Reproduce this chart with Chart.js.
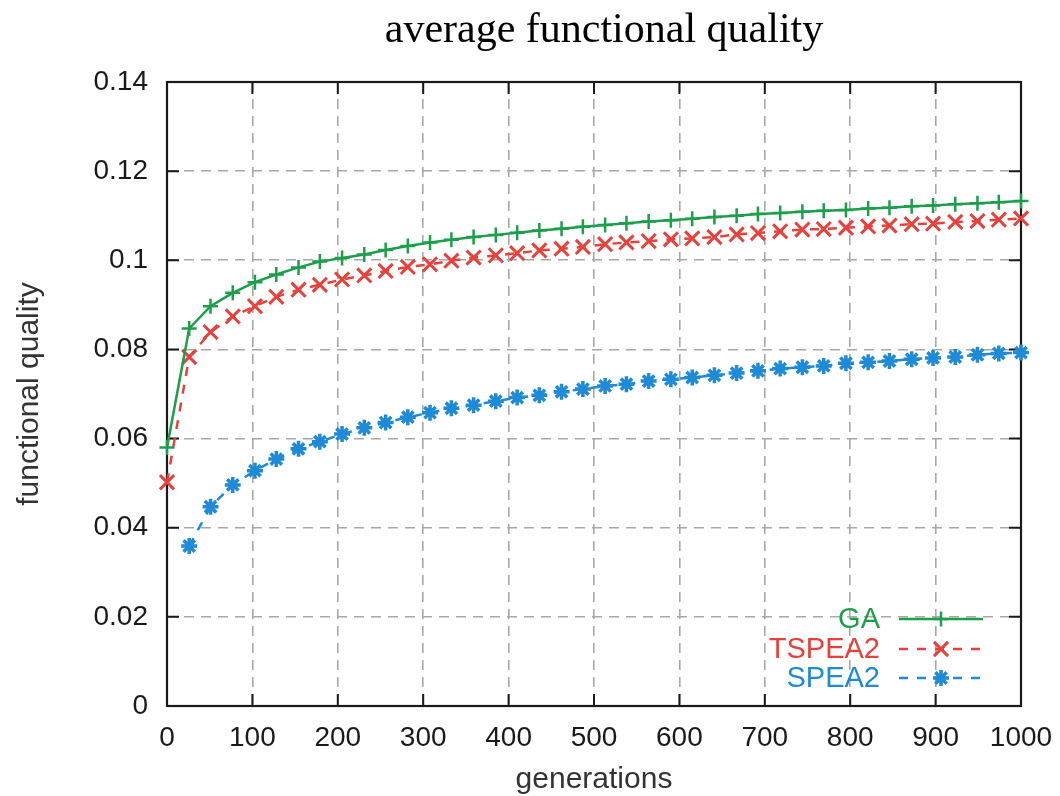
<!DOCTYPE html>
<html>
<head>
<meta charset="utf-8">
<script src="https://cdn.jsdelivr.net/npm/chart.js@4/dist/chart.umd.min.js"></script>
<style>
  html, body { margin: 0; padding: 0; background: #ffffff; }
  canvas { display: block; }
</style>
</head>
<body>
<canvas id="c" width="1060" height="796"></canvas>
<script>
// ---------- data ----------
const chartTitle = 'average functional quality';
const xTitle = 'generations';
const yTitle = 'functional quality';
const seriesNames = ['GA', 'TSPEA2', 'SPEA2'];
const generations = [0, 26, 51, 77, 103, 128, 154, 179, 205, 231, 256, 282, 308, 333, 359, 385, 410, 436, 462, 487,
  513, 538, 564, 590, 615, 641, 667, 692, 718, 744, 769, 795, 821, 846, 872, 897, 923, 949, 974, 1000];
const gaValues = [0.0580, 0.0847, 0.0897, 0.0927, 0.0951, 0.0968, 0.0984, 0.0997, 0.1005, 0.1013,
  0.1023, 0.1032, 0.1040, 0.1046, 0.1052, 0.1057, 0.1062, 0.1067, 0.1071, 0.1075,
  0.1079, 0.1083, 0.1087, 0.1090, 0.1093, 0.1097, 0.1100, 0.1104, 0.1106, 0.1109,
  0.1111, 0.1113, 0.1116, 0.1118, 0.1121, 0.1123, 0.1126, 0.1128, 0.1130, 0.1133];
const tspea2Values = [0.0502, 0.0783, 0.0839, 0.0874, 0.0897, 0.0918, 0.0934, 0.0945, 0.0957, 0.0966,
  0.0976, 0.0985, 0.0991, 0.0999, 0.1006, 0.1011, 0.1016, 0.1022, 0.1026, 0.1030,
  0.1036, 0.1040, 0.1043, 0.1047, 0.1049, 0.1052, 0.1058, 0.1061, 0.1065, 0.1069,
  0.1070, 0.1073, 0.1076, 0.1078, 0.1081, 0.1082, 0.1086, 0.1088, 0.1091, 0.1094];
const spea2Values = [null, 0.0359, 0.0447, 0.0496, 0.0528, 0.0554, 0.0577, 0.0593, 0.0610, 0.0624,
  0.0636, 0.0648, 0.0658, 0.0668, 0.0675, 0.0684, 0.0692, 0.0697, 0.0705, 0.0711,
  0.0718, 0.0722, 0.0729, 0.0733, 0.0737, 0.0742, 0.0747, 0.0752, 0.0757, 0.0760,
  0.0763, 0.0769, 0.0771, 0.0774, 0.0778, 0.0781, 0.0783, 0.0788, 0.0791, 0.0793];
const xTickValues = [0, 100, 200, 300, 400, 500, 600, 700, 800, 900, 1000];
const xTickLabels = ['0', '100', '200', '300', '400', '500', '600', '700', '800', '900', '1000'];
const yTickValues = [0, 0.02, 0.04, 0.06, 0.08, 0.1, 0.12, 0.14];
const yTickLabels = ['0', '0.02', '0.04', '0.06', '0.08', '0.1', '0.12', '0.14'];

// ---------- styles ----------
const GREEN = '#1c9e4b';
const RED = '#e8413c';
const BLUE = '#1f8ad6';
const SANS = "'Liberation Sans', Arial, Helvetica, sans-serif";
const SERIF = "'Liberation Serif', 'Times New Roman', serif";

function toPoints(vals) {
  return generations.map((g, i) => ({ x: g, y: vals[i] }));
}

const datasets = [
  { label: seriesNames[0], data: toPoints(gaValues), borderColor: GREEN, backgroundColor: GREEN,
    borderWidth: 2.5, borderDash: [], pointStyle: 'cross', pointRadius: 7.5, pointBorderWidth: 2.5,
    pointBorderColor: GREEN, tension: 0, clip: false },
  { label: seriesNames[1], data: toPoints(tspea2Values), borderColor: RED, backgroundColor: RED,
    borderWidth: 2.5, borderDash: [9, 9], pointStyle: 'crossRot', pointRadius: 10, pointBorderWidth: 3,
    pointBorderColor: RED, tension: 0, clip: false },
  { label: seriesNames[2], data: toPoints(spea2Values), borderColor: BLUE, backgroundColor: BLUE,
    borderWidth: 2.5, borderDash: [9, 9], pointStyle: 'star', pointRadius: 8, pointBorderWidth: 3.5,
    pointBorderColor: BLUE, tension: 0, clip: false, spanGaps: false }
];

const bgPlugin = {
  id: 'bg',
  beforeDraw(chart) {
    const ctx = chart.ctx;
    ctx.save();
    ctx.fillStyle = '#ffffff';
    ctx.fillRect(0, 0, chart.width, chart.height);
    ctx.restore();
  }
};

const framePlugin = {
  id: 'frame',
  beforeDatasetsDraw(chart) {
    const { ctx, chartArea: a, scales } = chart;
    ctx.save();
    ctx.strokeStyle = '#1a1a1a';
    ctx.lineWidth = 2.2;
    ctx.setLineDash([]);
    ctx.strokeRect(a.left, a.top, a.right - a.left, a.bottom - a.top);
    ctx.lineWidth = 2;
    const tl = 12;
    ctx.beginPath();
    yTickValues.forEach(v => {
      const y = scales.y.getPixelForValue(v);
      ctx.moveTo(a.left, y); ctx.lineTo(a.left + tl, y);
      ctx.moveTo(a.right, y); ctx.lineTo(a.right - tl, y);
    });
    xTickValues.forEach(v => {
      const x = scales.x.getPixelForValue(v);
      ctx.moveTo(x, a.bottom); ctx.lineTo(x, a.bottom - tl);
      ctx.moveTo(x, a.top); ctx.lineTo(x, a.top + tl);
    });
    ctx.stroke();
    ctx.restore();
  }
};

const titlePlugin = {
  id: 'plotTitle',
  afterDraw(chart) {
    const ctx = chart.ctx;
    ctx.save();
    ctx.fillStyle = '#000000';
    ctx.font = '42px ' + SERIF;
    ctx.textAlign = 'center';
    ctx.textBaseline = 'alphabetic';
    ctx.fillText(chartTitle, 604, 42);
    ctx.restore();
  }
};

const legendPlugin = {
  id: 'inLegend',
  afterDatasetsDraw(chart) {
    const { ctx, chartArea: a } = chart;
    const rowsFromBottom = [87, 57, 28];
    ctx.save();
    chart.data.datasets.forEach((ds, i) => {
      const y = a.bottom - rowsFromBottom[i];
      const textRight = a.right - 141;
      const x0 = a.right - 122, x1 = a.right - 38, xm = a.right - 80;
      ctx.font = '29px ' + SANS;
      ctx.fillStyle = ds.borderColor;
      ctx.textAlign = 'right';
      ctx.textBaseline = 'middle';
      ctx.fillText(ds.label, textRight, y + 1);
      ctx.strokeStyle = ds.borderColor;
      ctx.lineWidth = ds.borderWidth;
      ctx.setLineDash(ds.borderDash);
      ctx.beginPath();
      ctx.moveTo(x0, y); ctx.lineTo(x1, y);
      ctx.stroke();
      ctx.setLineDash([]);
      ctx.lineWidth = ds.pointBorderWidth;
      Chart.helpers.drawPoint(ctx, {
        pointStyle: ds.pointStyle, radius: ds.pointRadius, rotation: 0,
        borderWidth: ds.pointBorderWidth
      }, xm, y);
    });
    ctx.restore();
  }
};

new Chart(document.getElementById('c'), {
  type: 'line',
  data: { datasets },
  options: {
    responsive: false,
    animation: false,
    devicePixelRatio: 1,
    layout: { padding: { top: 82, right: 39, left: 0, bottom: 0 } },
    plugins: {
      legend: { display: false },
      title: { display: false },
      tooltip: { enabled: false }
    },
    scales: {
      x: {
        type: 'linear',
        min: 0, max: 1000,
        afterBuildTicks(scale) { scale.ticks = xTickValues.map(v => ({ value: v })); },
        afterFit(scale) { scale.height = 90; scale.paddingLeft = 0; scale.paddingRight = 0; },
        ticks: {
          autoSkip: false, maxRotation: 0, padding: 15, color: '#1a1a1a',
          font: { family: SANS, size: 28 },
          callback(v) { const i = xTickValues.indexOf(v); return i >= 0 ? xTickLabels[i] : ''; }
        },
        grid: { color: '#a8a8a8', lineWidth: 1.6, drawTicks: false },
        border: { display: false, dash: [10, 7] },
        title: { display: true, text: xTitle, color: '#333333',
          font: { family: SANS, size: 30, lineHeight: 1 }, padding: { top: 0, bottom: 1 } }
      },
      y: {
        type: 'linear',
        min: 0, max: 0.14,
        afterBuildTicks(scale) { scale.ticks = yTickValues.map(v => ({ value: v })); },
        afterFit(scale) { scale.width = 167; scale.paddingTop = 0; scale.paddingBottom = 0; },
        ticks: {
          autoSkip: false, padding: 19, color: '#1a1a1a',
          font: { family: SANS, size: 28 },
          callback(v) {
            const i = yTickValues.findIndex(t => Math.abs(t - v) < 1e-9);
            return i >= 0 ? yTickLabels[i] : '';
          }
        },
        grid: { color: '#a8a8a8', lineWidth: 1.6, drawTicks: false },
        border: { display: false, dash: [10, 7] },
        title: { display: true, text: yTitle, color: '#333333',
          font: { family: SANS, size: 30, lineHeight: 1 }, padding: { top: 15, bottom: 0 } }
      }
    }
  },
  plugins: [bgPlugin, framePlugin, legendPlugin, titlePlugin]
});
</script>
</body>
</html>
